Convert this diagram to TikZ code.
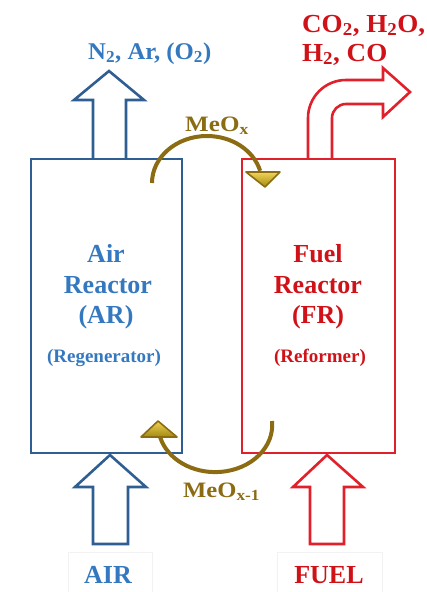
\documentclass[tikz,border=0pt]{standalone}
\usepackage{fontspec}
\setmainfont{Liberation Serif}
\definecolor{bstroke}{HTML}{2F5E93}
\definecolor{btext}{HTML}{3478C0}
\definecolor{rstroke}{HTML}{E0202A}
\definecolor{rtext}{HTML}{D01218}
\definecolor{gold}{HTML}{8B6C13}
\definecolor{goldlight}{HTML}{F2D35A}
\definecolor{faint}{HTML}{F2F2F2}
\begin{document}
\begin{tikzpicture}[x=1pt,y=1pt,
  bline/.style={draw=bstroke,line width=2.6pt,line join=miter},
  rline/.style={draw=rstroke,line width=2.6pt,line join=miter},
  garc/.style={draw=gold,line width=4pt},
  ghead/.style={draw=gold,line width=1.6pt,line join=round,top color=goldlight,bottom color=gold!80!yellow},
  lbl/.style={inner sep=0pt,font=\bfseries\fontsize{#1}{#1}\selectfont},
  reactor/.style={draw=#1,line width=2.6pt,inner sep=0pt,minimum height=294pt}]
\useasboundingbox (0,0) rectangle (427,-592);
% reactors
\node[reactor=bstroke,minimum width=151pt] (AR) at (106.5,-306) {};
\node[reactor=rstroke,minimum width=153pt] (FR) at (318.5,-306) {};
% box texts
\node[lbl=26,text=btext,anchor=base] (ar1) at (106,-262) {Air};
\node[lbl=26,text=btext,anchor=base] (ar2) at (108,-293) {Reactor};
\node[lbl=26,text=btext,anchor=base] (ar3) at (106,-323) {(AR)};
\node[lbl=19,text=btext,anchor=base] (ar4) at (104,-362) {(Regenerator)};
\node[lbl=26,text=rtext,anchor=base] (fr1) at (318,-262) {Fuel};
\node[lbl=26,text=rtext,anchor=base] (fr2) at (318,-293) {Reactor};
\node[lbl=26,text=rtext,anchor=base] (fr3) at (318,-323) {(FR)};
\node[lbl=19,text=rtext,anchor=base] (fr4) at (320,-362) {(Reformer)};
% top blue arrow
\draw[bline] (93,-159) -- (93,-100) -- (74,-100) -- (109,-71) -- (144,-100) -- (126,-100) -- (126,-159);
\node[lbl=24,text=btext,anchor=base west,xscale=1.03] (out1) at (88,-59) {N\textsubscript{2}, Ar, (O\textsubscript{2})};
% red bent arrow
\draw[rline] (308,-159) -- (308,-118) arc[start angle=180,end angle=90,radius=38] -- (383,-80) -- (383,-68) -- (410,-92) -- (383,-117) -- (383,-104) -- (346,-104) arc[start angle=90,end angle=180,radius=14] -- (332,-159);
\node[lbl=26,text=rtext,anchor=base west,xscale=1.04] (out2) at (302,-32) {CO\textsubscript{2}, H\textsubscript{2}O,};
\node[lbl=26,text=rtext,anchor=base west,xscale=1.04] (out3) at (302,-61) {H\textsubscript{2}, CO};
% bottom arrows
\draw[bline] (93,-544) -- (93,-487) -- (75,-487) -- (110,-455) -- (146,-487) -- (128,-487) -- (128,-544) -- cycle;
\draw[rline] (310,-544) -- (310,-487) -- (293,-487) -- (327,-455) -- (363,-487) -- (344,-487) -- (344,-544) -- cycle;
% input labels
\draw[faint,line width=1pt] (68,-595) -- (68,-552) -- (152,-552) -- (152,-595);
\draw[faint,line width=1pt] (277,-595) -- (277,-552) -- (382,-552) -- (382,-595);
\node[lbl=26,text=btext,anchor=base] (air) at (108,-583) {AIR};
\node[lbl=26,text=rtext,anchor=base] (fuel) at (329,-583) {FUEL};
% gold loops
\draw[garc] (152,-183) arc[start angle=180,end angle=15,x radius=55,y radius=47];
\draw[ghead] (246,-172) -- (280,-172) -- (265,-187) -- cycle;
\node[lbl=22,text=gold,anchor=base west,xscale=1.14] (meox) at (185,-131) {MeO\textsubscript{x}};
\draw[garc] (272,-421) arc[start angle=5,end angle=-165,x radius=57,y radius=47];
\draw[ghead] (141,-437) -- (177,-437) -- (158,-421) -- cycle;
\node[lbl=22,text=gold,anchor=base west,xscale=1.12] (meox1) at (183,-497) {MeO\textsubscript{x-1}};
\end{tikzpicture}
\end{document}
